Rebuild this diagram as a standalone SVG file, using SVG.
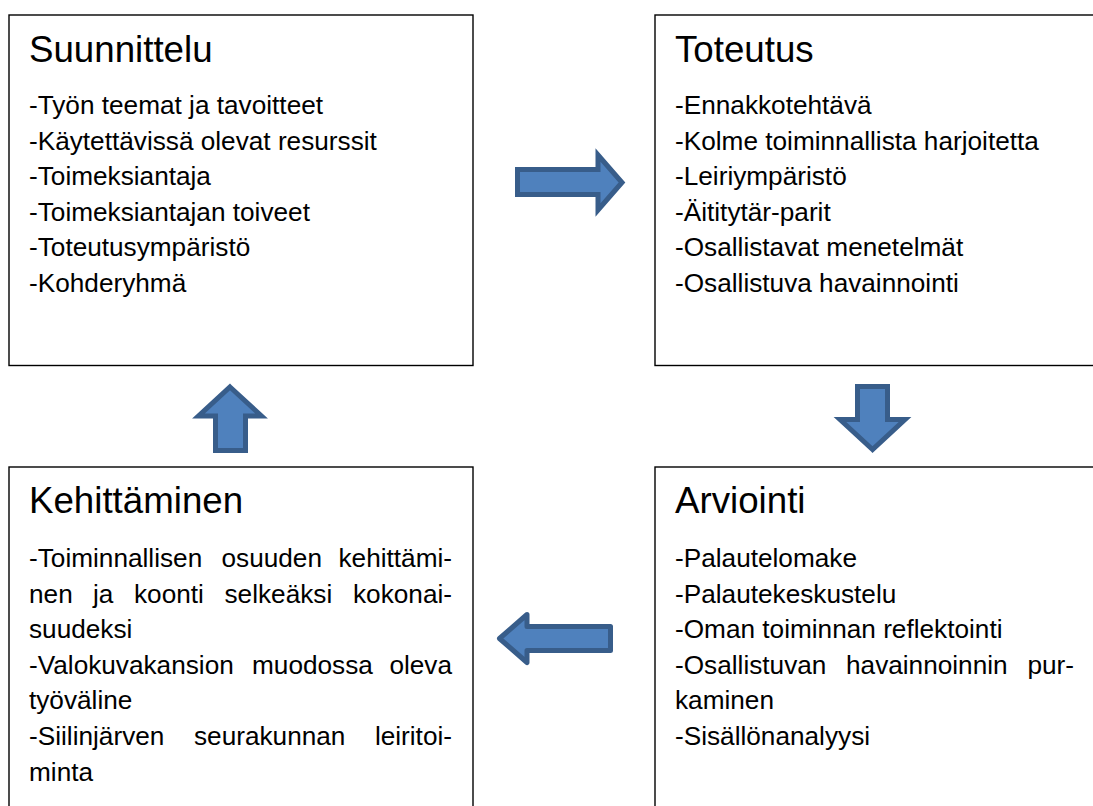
<svg xmlns="http://www.w3.org/2000/svg" width="1093" height="806" viewBox="0 0 1093 806">
<style>
.box{fill:#fff;stroke:#000;stroke-width:1.4}
.t{font-family:"Liberation Sans",Arial,sans-serif;fill:#000}
.h{font-size:36.7px}
.b{font-size:26.2px}
.arr{fill:#4F81BD;stroke:#385D8A;stroke-width:5}
</style>
<rect width="1093" height="806" fill="#fff"/>
<g id="suunnittelu">
<rect class="box" x="9" y="15" width="464" height="350.5"/>
<text class="t h" x="29" y="62">Suunnittelu</text>
<text class="t b" x="29" y="114">-Työn teemat ja tavoitteet</text>
<text class="t b" x="29" y="149.5">-Käytettävissä olevat resurssit</text>
<text class="t b" x="29" y="185">-Toimeksiantaja</text>
<text class="t b" x="29" y="220.5">-Toimeksiantajan toiveet</text>
<text class="t b" x="29" y="256">-Toteutusympäristö</text>
<text class="t b" x="29" y="291.5">-Kohderyhmä</text>
</g>
<g id="toteutus">
<rect class="box" x="655" y="15" width="442" height="350.5"/>
<text class="t h" x="675" y="62">Toteutus</text>
<text class="t b" x="675" y="114">-Ennakkotehtävä</text>
<text class="t b" x="675" y="149.5">-Kolme toiminnallista harjoitetta</text>
<text class="t b" x="675" y="185">-Leiriympäristö</text>
<text class="t b" x="675" y="220.5">-Äititytär-parit</text>
<text class="t b" x="675" y="256">-Osallistavat menetelmät</text>
<text class="t b" x="675" y="291.5">-Osallistuva havainnointi</text>
</g>
<g id="kehittaminen">
<rect class="box" x="9" y="467" width="464" height="345"/>
<text class="t h" x="29" y="513">Kehittäminen</text>
<text class="t b" y="567"><tspan x="29">-Toiminnallisen</tspan><tspan x="221.5">osuuden</tspan><tspan x="452" text-anchor="end">kehittämi-</tspan></text>
<text class="t b" y="602.6"><tspan x="29">nen</tspan><tspan x="93">ja</tspan><tspan x="134">koonti</tspan><tspan x="224.5">selkeäksi</tspan><tspan x="452" text-anchor="end">kokonai-</tspan></text>
<text class="t b" x="29" y="638.2">suudeksi</text>
<text class="t b" y="673.8"><tspan x="29">-Valokuvakansion</tspan><tspan x="252">muodossa</tspan><tspan x="452" text-anchor="end">oleva</tspan></text>
<text class="t b" x="29" y="709.4">työväline</text>
<text class="t b" y="745"><tspan x="29">-Siilinjärven</tspan><tspan x="194">seurakunnan</tspan><tspan x="452" text-anchor="end">leiritoi-</tspan></text>
<text class="t b" x="29" y="780.6">minta</text>
</g>
<g id="arviointi">
<rect class="box" x="655" y="467" width="442" height="345"/>
<text class="t h" x="675" y="513">Arviointi</text>
<text class="t b" x="675" y="567">-Palautelomake</text>
<text class="t b" x="675" y="602.6">-Palautekeskustelu</text>
<text class="t b" x="675" y="638.2">-Oman toiminnan reflektointi</text>
<text class="t b" y="673.8"><tspan x="675">-Osallistuvan</tspan><tspan x="846">havainnoinnin</tspan><tspan x="1074" text-anchor="end">pur-</tspan></text>
<text class="t b" x="675" y="709.4">kaminen</text>
<text class="t b" x="675" y="745">-Sisällönanalyysi</text>
</g>
<g id="connectors">
<polygon class="arr" points="517.5,169.5 598,169.5 598,155 622,182.5 598,210 598,194.5 517.5,194.5"/>
<polygon class="arr" points="872.5,449.5 840,419.5 857.5,419.5 857.5,386.5 887.5,386.5 887.5,419.5 905,419.5"/>
<polygon class="arr" points="610.5,626.5 527,626.5 527,614.5 499.5,638.5 527,662.5 527,650.5 610.5,650.5" stroke-linejoin="round"/>
<polygon class="arr" points="230,387 261.5,416 245.5,416 245.5,450.5 215.5,450.5 215.5,416 198.5,416"/>
</g>
</svg>
